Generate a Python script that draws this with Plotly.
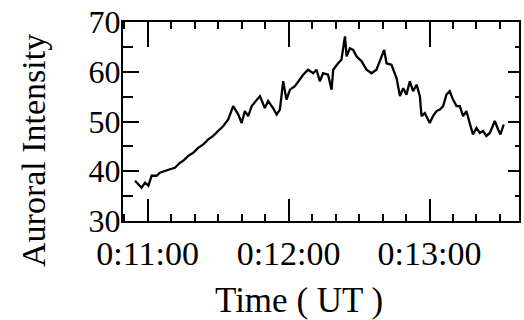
import plotly.graph_objects as go

# time in seconds after 0:00:00 UT, auroral intensity values
t_sec = [654.6, 657.4, 658.9, 660.3, 661.7, 663.8, 665.2, 667.4, 669.5, 671.6,
         673.7, 675.1, 677.3, 679.4, 681.5, 683.7, 685.8, 687.9, 690.0, 692.2,
         694.3, 696.4, 698.6, 700.0, 701.4, 702.8, 704.3, 706.4, 707.8, 709.9,
         711.3, 713.4, 714.9, 716.3, 717.7, 719.1, 720.6, 722.7, 724.8, 726.2,
         728.3, 730.5, 731.9, 733.3, 734.7, 736.8, 738.3, 739.0, 741.1, 742.5,
         744.0, 744.7, 746.1, 747.5, 748.9, 751.1, 753.2, 755.3, 757.4, 759.6,
         760.7, 761.7, 763.8, 766.0, 767.4, 768.8, 770.2, 771.6, 773.0, 774.5,
         775.9, 776.6, 778.0, 780.1, 781.5, 783.0, 784.4, 785.8, 787.2, 788.6,
         790.0, 791.5, 792.9, 794.3, 795.7, 797.1, 798.5, 800.0, 801.4, 802.8,
         804.2, 805.7, 807.8, 809.2, 810.2, 811.6]
intensity = [38.1, 36.7, 37.7, 37.1, 39.1, 39.1, 39.7, 40.1, 40.4, 40.7,
             41.7, 42.1, 43.1, 43.7, 44.7, 45.4, 46.4, 47.1, 48.1, 49.1,
             50.4, 53.1, 51.4, 49.7, 52.1, 51.1, 53.1, 54.4, 55.1, 52.7,
             54.1, 52.7, 51.4, 52.4, 58.1, 54.4, 56.4, 57.1, 58.4, 59.4,
             60.4, 59.7, 60.4, 58.1, 59.7, 59.4, 56.4, 60.4, 61.7, 62.4,
             67.1, 63.1, 64.7, 64.4, 63.1, 62.1, 60.4, 59.7, 60.4, 63.1,
             64.4, 61.7, 61.4, 58.7, 55.1, 56.7, 55.4, 58.1, 56.1, 57.4,
             55.1, 51.1, 51.7, 49.7, 51.1, 52.1, 52.4, 53.1, 55.4, 56.1,
             54.4, 53.1, 53.1, 51.1, 52.1, 49.7, 47.4, 48.7, 47.7, 48.1,
             47.1, 47.7, 50.1, 48.4, 47.4, 49.4]

major_tick_sec = [660, 720, 780]
major_tick_text = ["0:11:00", "0:12:00", "0:13:00"]
minor_tick_sec = list(range(650, 820, 10))

x_range = [649.5, 818.1]
y_range = [30, 70]

FONT = "Liberation Serif, Times New Roman, serif"

fig = go.Figure()
fig.add_trace(go.Scatter(x=t_sec, y=intensity, mode="lines",
                         line=dict(color="black", width=2.3), showlegend=False,
                         hoverinfo="skip"))
# companion (invisible) trace so the top/right frame axes get their own subplot
fig.add_trace(go.Scatter(x=t_sec, y=intensity, mode="none", xaxis="x2", yaxis="y2",
                         showlegend=False, hoverinfo="skip"))

W, H = 524, 320
L, R, T, B = 123, 5, 22, 99

common_x = dict(
    range=x_range, tickmode="array", tickvals=major_tick_sec,
    ticks="inside", tickwidth=2, tickcolor="black",
    showline=True, linewidth=2, linecolor="black",
    showgrid=False, zeroline=False,
)
common_y = dict(
    range=y_range, tickmode="linear", dtick=10, tick0=0,
    ticks="inside", tickwidth=2, tickcolor="black",
    showline=True, linewidth=2, linecolor="black",
    showgrid=False, zeroline=False,
)

fig.update_layout(
    width=W, height=H,
    margin=dict(l=L, r=R, t=T, b=B, autoexpand=False),
    paper_bgcolor="white", plot_bgcolor="white",
    font=dict(family=FONT, color="black"),
    xaxis=dict(
        **common_x, ticktext=major_tick_text, ticklen=22,
        minor=dict(tickmode="array", tickvals=minor_tick_sec,
                   ticks="inside", ticklen=7, tickwidth=2, tickcolor="black"),
        tickfont=dict(size=34, family=FONT, color="black"),
        ticklabelstandoff=1,
    ),
    xaxis2=dict(
        **common_x, overlaying="x", side="top", anchor="y2", ticklen=25,
        minor=dict(tickmode="array", tickvals=minor_tick_sec,
                   ticks="inside", ticklen=7, tickwidth=2, tickcolor="black"),
        showticklabels=False,
    ),
    yaxis=dict(
        **common_y, ticklen=16,
        minor=dict(tickmode="linear", dtick=5, tick0=0,
                   ticks="inside", ticklen=10, tickwidth=2, tickcolor="black"),
        tickfont=dict(size=32, family=FONT, color="black"),
        ticklabelstandoff=-6,
    ),
    yaxis2=dict(
        **common_y, overlaying="y", side="right", anchor="x2", ticklen=11,
        minor=dict(tickmode="linear", dtick=5, tick0=0,
                   ticks="inside", ticklen=4, tickwidth=2, tickcolor="black"),
        showticklabels=False,
    ),
)

pw, ph = W - L - R, H - T - B
fig.add_annotation(text="Auroral Intensity", xref="paper", yref="paper",
                   x=(33 - L) / pw, y=(H - B - 151) / ph, textangle=-90,
                   showarrow=False, xanchor="center", yanchor="middle",
                   font=dict(size=34, family=FONT, color="black"))
fig.add_annotation(text="Time ( UT )", xref="paper", yref="paper",
                   x=(299 - L) / pw, y=(H - B - 300) / ph,
                   showarrow=False, xanchor="center", yanchor="middle",
                   font=dict(size=35, family=FONT, color="black"))

fig.write_html("out.html", config={"displayModeBar": False},
               post_script="document.body.style.margin='0';document.body.style.overflow='hidden';")
